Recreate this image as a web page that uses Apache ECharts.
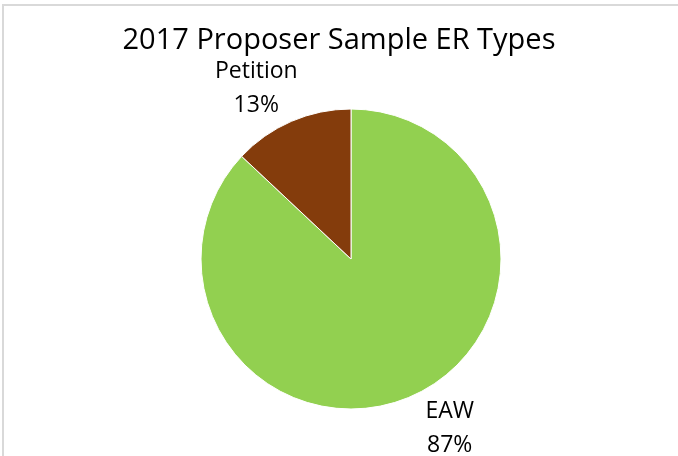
<!DOCTYPE html>
<html>
<head>
<meta charset="utf-8">
<script src="https://cdn.jsdelivr.net/npm/echarts@6/dist/echarts.min.js"></script>
<style>
  html, body { margin: 0; padding: 0; background: #fff; }
  #frame { position: absolute; left: 2px; top: 4px; width: 690px; height: 470px;
           border-top: 2px solid #d9d9d9; border-left: 2px solid #d9d9d9; }
  #chart { position: absolute; left: 0; top: 0; width: 678px; height: 456px; }
</style>
</head>
<body>
<div id="frame"></div>
<div id="chart"></div>
<script>
// ER type breakdown for the 2017 proposer sample (percent of total)
const categories = ['EAW', 'Petition'];
const shares = [87, 13];
const colors = ['#92D050', '#843C0C'];

// small nudges for the outside labels, per slice
const labelShift = [[-23, 15], [27, -16]];

const chart = echarts.init(document.getElementById('chart'), null, { renderer: 'canvas' });
const font = '"Open Sans", "Noto Sans", sans-serif';

chart.setOption({
  backgroundColor: 'transparent',
  animation: false,
  title: {
    text: '2017 Proposer Sample ER Types',
    left: 'center',
    top: 21,
    textStyle: { fontFamily: font, fontSize: 29, fontWeight: 'normal', color: '#000' }
  },
  series: [{
    type: 'pie',
    center: [351, 259],
    radius: 150,
    startAngle: 90,
    clockwise: true,
    data: categories.map((c, i) => ({ name: c, value: shares[i], itemStyle: { color: colors[i] } })),
    itemStyle: { borderColor: '#fff', borderWidth: 1 },
    label: {
      show: true,
      position: 'outside',
      formatter: p => '{c|' + p.name + '}\n{c|' + Math.round(p.percent) + '%}',
      fontFamily: font,
      fontSize: 23,
      lineHeight: 34,
      color: '#000',
      rich: {
        c: { width: 100, align: 'center', fontFamily: font, fontSize: 23, lineHeight: 34, color: '#000' }
      }
    },
    labelLine: { show: false, length: 18, length2: 0 },
    labelLayout: p => ({ dx: labelShift[p.dataIndex][0], dy: labelShift[p.dataIndex][1] })
  }]
});
</script>
</body>
</html>
